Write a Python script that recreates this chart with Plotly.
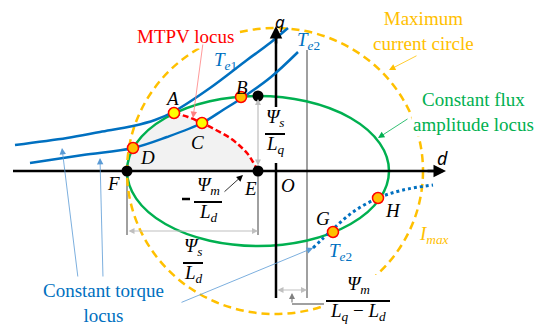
import plotly.graph_objects as go

# d-q plane, 1 unit = 1 px, origin at O
te1_d = [-261, -209, -176, -143, -121, -103, -66, -29, -6, 12]
te1_q = [26, 33, 39, 45, 51, 59, 83, 111, 128, 143]

te2_d = [-246, -193, -143, -109, -74, -53, -34, -5, 22]
te2_q = [8, 16, 23, 34, 48, 61, 73, 94, 119]

te2_low_d = [37, 56, 77, 102, 127, 157]
te2_low_q = [-77, -59, -41, -27, -19, -14]

mtpv_d = [-102, -88, -74, -60, -46, -36, -29, -23, -18]
mtpv_q = [58, 54, 48, 41, 33, 25, 18, 9, 0]

# grey area: flux ellipse from F up to A, then MTPV down to E
shade_d = [-149, -148, -143, -134, -123, -113] + mtpv_d
shade_q = [0, 10, 23, 35, 45, 52] + mtpv_q

flux_cd, flux_a, flux_b = -18, 131, 75
imax_cd, imax_rx, imax_ry = -1, 148, 143

pt_names = ["A", "B", "C", "D", "G", "H"]
pt_d = [-102, -35, -74, -143, 57, 102]
pt_q = [58, 74, 48, 23, -61, -27]
pt_fill = ["#FFFF00", "#FFC000", "#FFFF00", "#FFC000", "#FFC000", "#FFC000"]

dot_d = [-149, -18, -18]
dot_q = [0, 0, 75]

BLUE = "#0070C0"
GREEN = "#00B050"
ORANGE = "#FFC000"
RED = "#FF0000"
GREY = "#808080"
LGREY = "#BFBFBF"
SERIF = '"Liberation Serif", "Times New Roman", serif'

fig = go.Figure()

shade_path = "M " + " L ".join(f"{d},{q}" for d, q in zip(shade_d, shade_q)) + " Z"
fig.add_shape(type="path", path=shade_path, fillcolor="#F2F2F2",
              line=dict(width=0), layer="below")

# dimension lines
for d, q0, q1 in [(-149, 0, -64), (-18, 0, -64), (31, -127, 121)]:
    fig.add_shape(type="line", x0=d, x1=d, y0=q0, y1=q1,
                  line=dict(color=GREY, width=1.5), layer="below")
fig.add_shape(type="path", path="M 16,-133 L 48,-133",
              line=dict(color=GREY, width=1.5), layer="below")

fig.add_shape(type="circle", x0=flux_cd - flux_a, x1=flux_cd + flux_a,
              y0=-flux_b, y1=flux_b, line=dict(color=GREEN, width=2.5),
              layer="below")
fig.add_shape(type="circle", x0=imax_cd - imax_rx, x1=imax_cd + imax_rx,
              y0=-imax_ry, y1=imax_ry,
              line=dict(color=ORANGE, width=2.5, dash="8px,5px"), layer="below")
fig.add_shape(type="rect", x0=48, x1=118, y0=-104, y1=-156,
              fillcolor="white", line=dict(width=0), layer="below")

# axes
fig.add_shape(type="line", x0=-263, x1=162, y0=0, y1=0,
              line=dict(color="black", width=2.5), layer="below")
fig.add_shape(type="line", x0=0, x1=0, y0=-127, y1=8,
              line=dict(color="black", width=2.5), layer="below")
fig.add_shape(type="line", x0=0, x1=0, y0=64, y1=136,
              line=dict(color="black", width=2.5), layer="below")

fig.add_trace(go.Scatter(x=te1_d, y=te1_q, mode="lines", line_shape="spline",
                         line=dict(color=BLUE, width=2.5)))
fig.add_trace(go.Scatter(x=te2_d, y=te2_q, mode="lines", line_shape="spline",
                         line=dict(color=BLUE, width=2.5)))
fig.add_trace(go.Scatter(x=te2_low_d, y=te2_low_q, mode="lines", line_shape="spline",
                         line=dict(color=BLUE, width=3, dash="dot")))
fig.add_trace(go.Scatter(x=mtpv_d, y=mtpv_q, mode="lines", line_shape="spline",
                         line=dict(color=RED, width=2.5, dash="6px,3px")))
fig.add_trace(go.Scatter(x=dot_d, y=dot_q, mode="markers",
                         marker=dict(color="black", size=11)))
fig.add_trace(go.Scatter(x=pt_d, y=pt_q, mode="markers",
                         marker=dict(color=pt_fill, size=11,
                                     line=dict(color=RED, width=1.5))))


def label(text, d, q, color="black", size=19, family=SERIF, **kw):
    fig.add_annotation(x=d, y=q, text=text, showarrow=False,
                       font=dict(family=family, size=size, color=color), **kw)


def arrow(d0, q0, d1, q1, color, width=0.8, size=1.6, side="end", head=2):
    fig.add_annotation(x=d1, y=q1, ax=d0, ay=q0, xref="x", yref="y",
                       axref="x", ayref="y", text="", showarrow=True,
                       arrowhead=head, startarrowhead=head, arrowsize=size,
                       startarrowsize=size, arrowwidth=width, arrowcolor=color,
                       arrowside=side, standoff=0, startstandoff=0)


# axis heads
arrow(150, 0, 170, 0, "black", width=2.5, size=1)
arrow(0, 126, 0, 145, "black", width=2.5, size=1)
label("<i>q</i>", 4, 163, family="Noto Sans", size=17, yanchor="top")
label("<i>d</i>", 166, 13, family="Noto Sans", size=18)

for name, d, q in [("A", -104, 73), ("B", -34, 84), ("C", -79, 29), ("D", -129, 14),
                   ("E", -26, -17), ("F", -163, -12), ("G", 47, -47), ("H", 117, -39),
                   ("O", 12, -14)]:
    label(f"<i>{name}</i>", d, q)

label("<i>T</i><sub><i>e</i>1</sub>", -51, 110, color=BLUE)
label("<i>T</i><sub><i>e</i>2</sub>", 32, 130, color=BLUE)
label("<i>T</i><sub><i>e</i>2</sub>", 64, -81, color=BLUE)
label("<i>I</i><sub><i>max</i></sub>", 158, -64, color=ORANGE)

label("MTPV locus", -91, 135, color=RED, bgcolor="white")
label("Maximum<br>current circle", 147, 140, color=ORANGE)
label("Constant flux<br>amplitude locus", 197, 59, color=GREEN, bgcolor="white")
label("Constant torque<br>locus", -173, -132, color=BLUE)

# pointers
arrow(-73, 128, -83, 53, "#FF8080")
arrow(142, 116, 113, 101, ORANGE)
arrow(133, 53, 102, 33, GREEN)
arrow(-198, -107, -214, 23, "#5B9BD5")
arrow(-173, -107, -176, 13, "#5B9BD5")
arrow(-96, -132, 37, -77, "#5B9BD5")
arrow(-53, -22, -33, -4, "black")

# dimension arrows
arrow(-149, -60, -18, -60, LGREY, width=1.2, size=1, side="end+start")
arrow(-18, 4, -18, 72, LGREY, width=1.2, size=1, side="end+start")
arrow(0, -119, 31, -119, LGREY, width=1.2, size=1, side="end+start")
arrow(16, -133, 16, -122, GREY, width=1.2, size=1)


def fraction(num, den, d, q_bar, half):
    label(num, d, q_bar + 2, yanchor="bottom")
    fig.add_shape(type="line", x0=d - half, x1=d + half, y0=q_bar, y1=q_bar,
                  line=dict(color="black", width=2), layer="above")
    label(den, d, q_bar + 3, yanchor="top")


fraction("<i>Ψ</i><sub><i>s</i></sub>", "<i>L</i><sub><i>q</i></sub>", -1, 37, 10)
fraction("<i>Ψ</i><sub><i>s</i></sub>", "<i>L</i><sub><i>d</i></sub>", -83, -92, 10)
fraction("<i>Ψ</i><sub><i>m</i></sub>", "<i>L</i><sub><i>d</i></sub>", -68, -31, 14)
fig.add_shape(type="line", x0=-94, x1=-86, y0=-28, y1=-28,
              line=dict(color="black", width=2.5), layer="above")
fraction("<i>Ψ</i><sub><i>m</i></sub>",
         "<i>L</i><sub><i>q</i></sub> − <i>L</i><sub><i>d</i></sub>", 82, -130, 32)

# the page body adds an 8 px margin, so the plot area starts 8 px in
fig.update_xaxes(range=[-268, 266], visible=False)
fig.update_yaxes(range=[-154, 163], visible=False)
fig.update_layout(
    width=534,
    height=317,
    margin=dict(l=0, r=0, t=0, b=0),
    plot_bgcolor="white",
    paper_bgcolor="white",
    showlegend=False,
)

fig.write_html("out.html")
